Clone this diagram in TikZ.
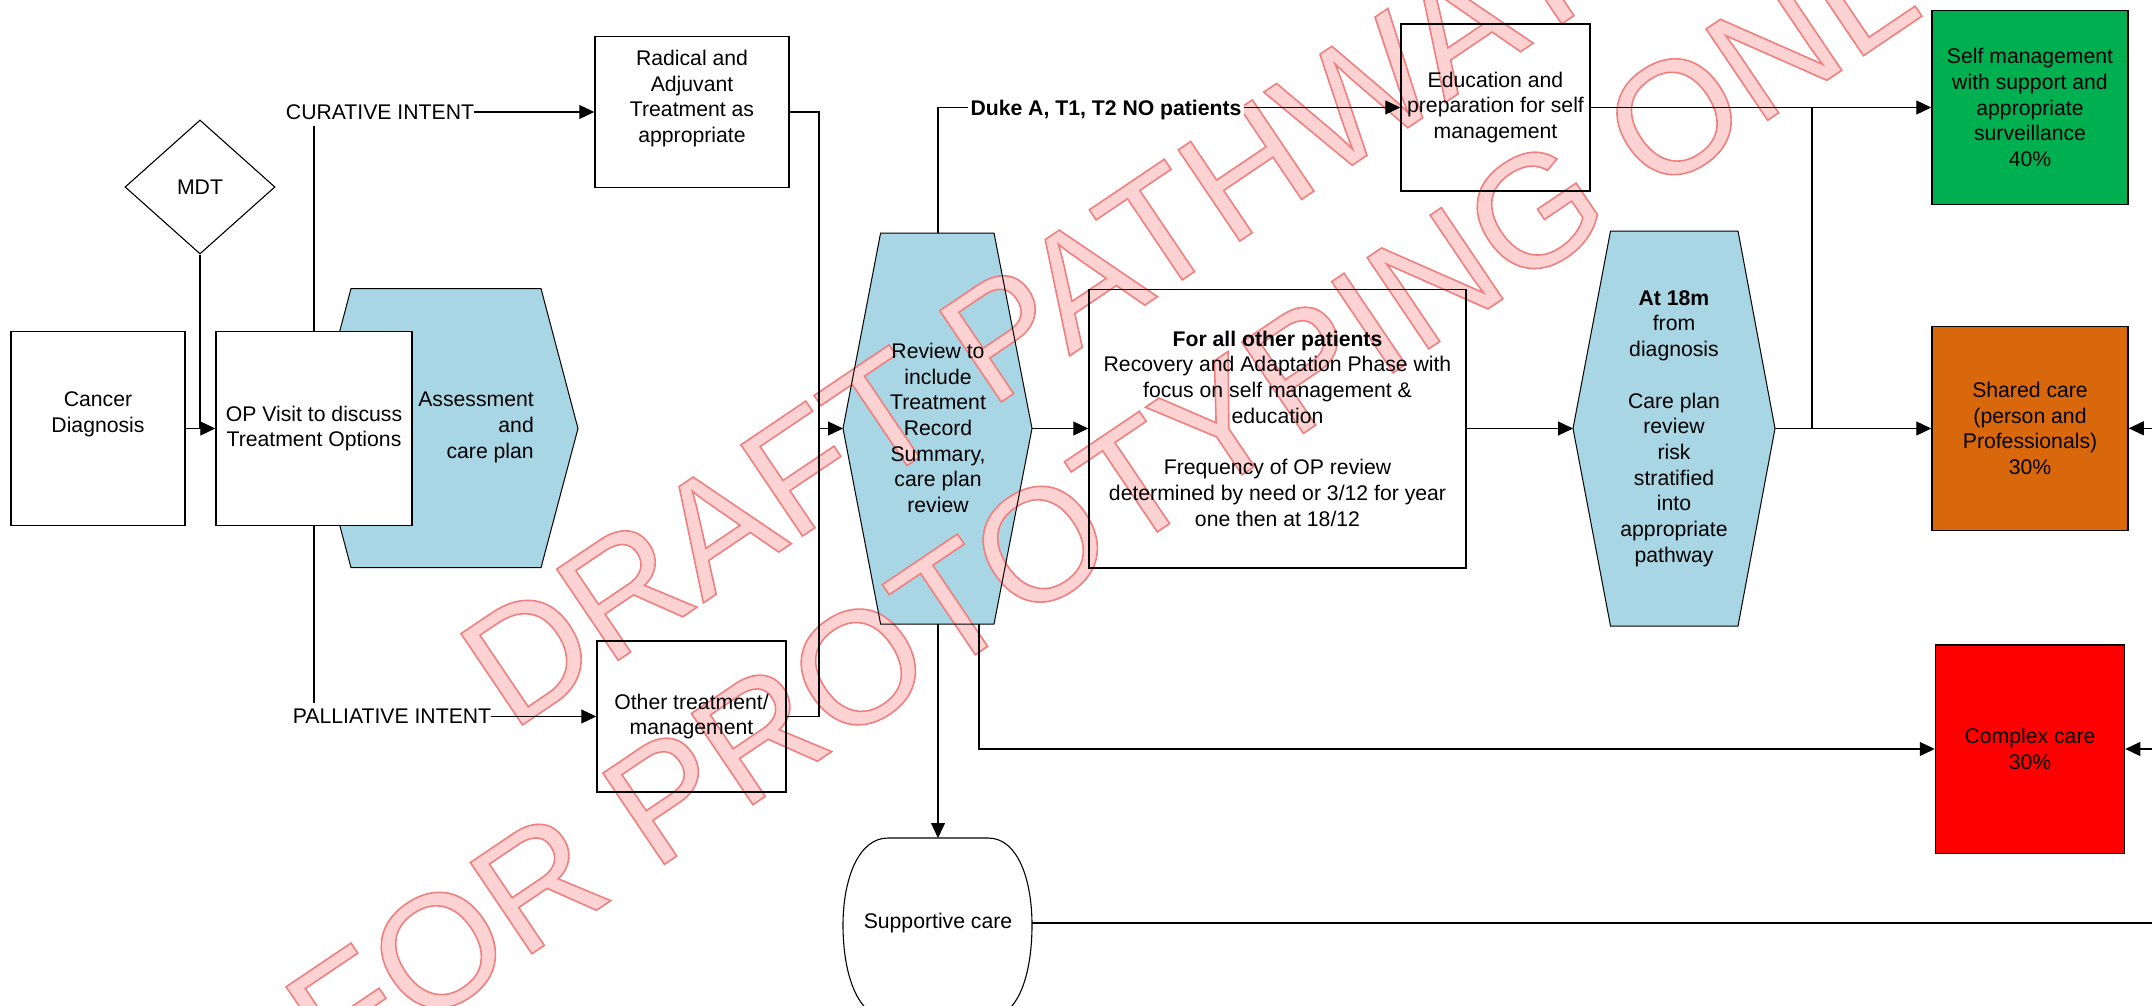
\documentclass[tikz,border=0pt]{standalone}
\usepackage{fontspec}
\setmainfont{Liberation Sans}
\usetikzlibrary{arrows.meta,shapes.geometric}
\definecolor{hexblue}{RGB}{168,214,228}
\definecolor{cgreen}{RGB}{0,176,80}
\definecolor{corange}{RGB}{217,103,12}
\definecolor{cred}{RGB}{255,0,0}
\definecolor{wmfill}{RGB}{253,210,210}
\pgfdeclarelayer{bg}
\pgfdeclarelayer{wm}
\pgfsetlayers{bg,wm,main}
\newcommand{\wmoutline}{\special{pdf:literal direct 2 Tr 1.6 w 0.94 0.5 0.5 RG}}
\newcommand{\wmreset}{\special{pdf:literal direct 0 Tr}}
\begin{document}
\begin{tikzpicture}[x=1pt,y=-1pt,
  font=\fontsize{21.2}{25.7}\selectfont,
  box/.style={draw, line width=1.5pt, inner sep=0pt, align=center},
  txt/.style={inner sep=0pt, align=center},
  conn/.style={line width=1.2pt},
  arr/.style={conn, -{Triangle[length=15pt,width=14pt]}},
  hexline/.style={draw, line width=1pt},
  wmtext/.style={inner sep=0pt, align=center, rotate=34, font=\fontsize{160}{195}\selectfont},
  ]
\useasboundingbox (0,0) rectangle (2152,1006);
\clip (0,0) rectangle (2152,1006);

% ---------- left part
\node[txt] (cur) at (380,112) {CURATIVE INTENT};
\node[txt] (pal) at (392,716.5) {PALLIATIVE INTENT};
\node[diamond, draw, line width=1.1pt, minimum width=150pt, minimum height=134pt, inner sep=0pt] (mdt) at (200,187) {MDT};
\node[box, minimum width=174pt, minimum height=194pt] (cancer) at (98,428.5) {};
\node[txt] (cancertxt) at (98,414.6) {Cancer\\Diagnosis};
\node[txt, align=right, anchor=east] (asstxt) at (534,427.6) {Assessment\\and\\care plan};
\node[box, minimum width=196pt, minimum height=194pt] (op) at (314,428.5) {OP Visit to discuss\\Treatment Options};
\node[box, minimum width=194pt, minimum height=151pt] (radical) at (692,112) {};
\node[txt] (radtxt) at (692,98.4) {Radical and\\Adjuvant\\Treatment as\\appropriate};
\node[box, minimum width=189pt, minimum height=151pt] (other) at (691.5,716.5) {Other treatment/\\management};

% ---------- review hexagon
\draw[hexline] (880.6,233) -- (994,233) -- (1032,428.5) -- (994,624) -- (880.6,624) -- (843,428.5) -- cycle;
\coordinate (revN) at (938,233);
\coordinate (revS) at (938,624);
\coordinate (revS2) at (979,624);
\coordinate (revW) at (843,428.5);
\coordinate (revE) at (1032,428.5);
\node[txt] (revtxt) at (938,428) {Review to\\include\\Treatment\\Record\\Summary,\\care plan\\review};

\node[box, minimum width=377pt, minimum height=278.5pt] (rec) at (1277.5,428.5) {\textbf{For all other patients}\\Recovery and Adaptation Phase with\\focus on self management \&\\education\\[25.7pt]Frequency of OP review\\determined by need or 3/12 for year\\one then at 18/12};

% ---------- 18m hexagon
\draw[hexline] (1610.5,231) -- (1738,231) -- (1775,428.5) -- (1738,626) -- (1610.5,626) -- (1573,428.5) -- cycle;
\coordinate (atW) at (1573,428.5);
\coordinate (atE) at (1775,428.5);
\node[txt] (attxt) at (1674,428.5) {\textbf{At 18m}\\from\\diagnosis\\[25.7pt]Care plan\\review\\risk\\stratified\\into\\appropriate\\pathway};

\node[box, minimum width=189pt, minimum height=166.5pt] (edu) at (1495.5,107.5) {Education and\\preparation for self\\management};
\node[box, minimum width=196pt, minimum height=194pt] (selfm) at (2030,107.7) {Self management\\with support and\\appropriate\\surveillance\\40\%};
\node[box, minimum width=196pt, minimum height=204pt] (shared) at (2030,428.3) {Shared care\\(person and\\Professionals)\\30\%};
\node[box, minimum width=189pt, minimum height=208.5pt] (complex) at (2030,749) {Complex care\\30\%};

% ---------- supportive care
\draw[line width=1.1pt] (888,838) -- (988,838) .. controls (1018,838) and (1032,880) .. (1032,925) .. controls (1032,975) and (1018,1018) .. (988,1018) -- (888,1018) .. controls (858,1018) and (843,975) .. (843,925) .. controls (843,880) and (858,838) .. (888,838) -- cycle;
\coordinate (supN) at (938,838);
\coordinate (supE) at (1032,923);
\node[txt] (sup) at (938,923) {Supportive care};

% ---------- junctions and page edge
\coordinate (jR) at (819,428.5);
\coordinate (jS) at (1812,107.5);
\coordinate (edgeS) at (2152,428.3);
\coordinate (edgeC) at (2152,749);
\coordinate (edgeSup) at (2152,923);
\coordinate (vt) at ([yshift=-6pt]cur.south);
\coordinate (vb) at ([yshift=6pt]pal.north);

% ---------- fills (below the watermark)
\begin{pgfonlayer}{bg}
  \fill[white] (0,0) rectangle (2152,1006);
  \draw[conn] (vt -| op.center) -- (vb -| op.center);
  \draw[hexline, fill=hexblue] (351,288.6) -- (541,288.6) -- (578,428.5) -- (541,567.7) -- (351,567.7) -- (314,428.5) -- cycle;
  \fill[white] (op.south west) rectangle (op.north east);
  \fill[hexblue] (880.6,233) -- (994,233) -- (1032,428.5) -- (994,624) -- (880.6,624) -- (843,428.5) -- cycle;
  \fill[hexblue] (1610.5,231) -- (1738,231) -- (1775,428.5) -- (1738,626) -- (1610.5,626) -- (1573,428.5) -- cycle;
  \fill[cgreen] (selfm.south west) rectangle (selfm.north east);
  \fill[corange] (shared.south west) rectangle (shared.north east);
  \fill[cred] (complex.south west) rectangle (complex.north east);
\end{pgfonlayer}

% ---------- connectors
\draw[arr] (cancer.east) -- (op.west);
\draw[conn] (mdt.south) -- (mdt.south |- cancer.east);
\draw[arr] (cur.east) -- (cur.east -| radical.west);
\draw[arr] (pal.east) -- (pal.east -| other.west);
\draw[conn] (radical.east) -| (jR);
\draw[conn] (other.east) -| (jR);
\draw[arr] (jR) -- (revW);
\draw[arr] (revN) |- (edu.west);
\node[inner sep=0pt, inner xsep=3pt, fill=white, anchor=base] (duke) at (1106,115.3) {\textbf{Duke A, T1, T2 NO patients}};
\draw[arr] (revE) -- (rec.west);
\draw[arr] (rec.east) -- (atW);
\draw[arr] (atE) -- (atE -| shared.west);
\draw[arr] (edu.east) -- (edu.east -| selfm.west);
\draw[conn] (jS) -- (jS |- atE);
\draw[arr] (revS) -- (supN);
\draw[arr] (revS2) |- (complex.west);
\draw[conn] (supE) -- (edgeSup);
\draw[arr] (edgeS) -- (shared.east);
\draw[arr] (edgeC) -- (complex.east);

% ---------- watermark (between fills and lines/texts)
\begin{pgfonlayer}{wm}
  \node[wmtext, text=wmfill] (wm) at (1086,397) {\wmoutline DRAFT PATHWAY\\FOR PROTOTYPING ONLY\wmreset};
\end{pgfonlayer}
\end{tikzpicture}
\end{document}
